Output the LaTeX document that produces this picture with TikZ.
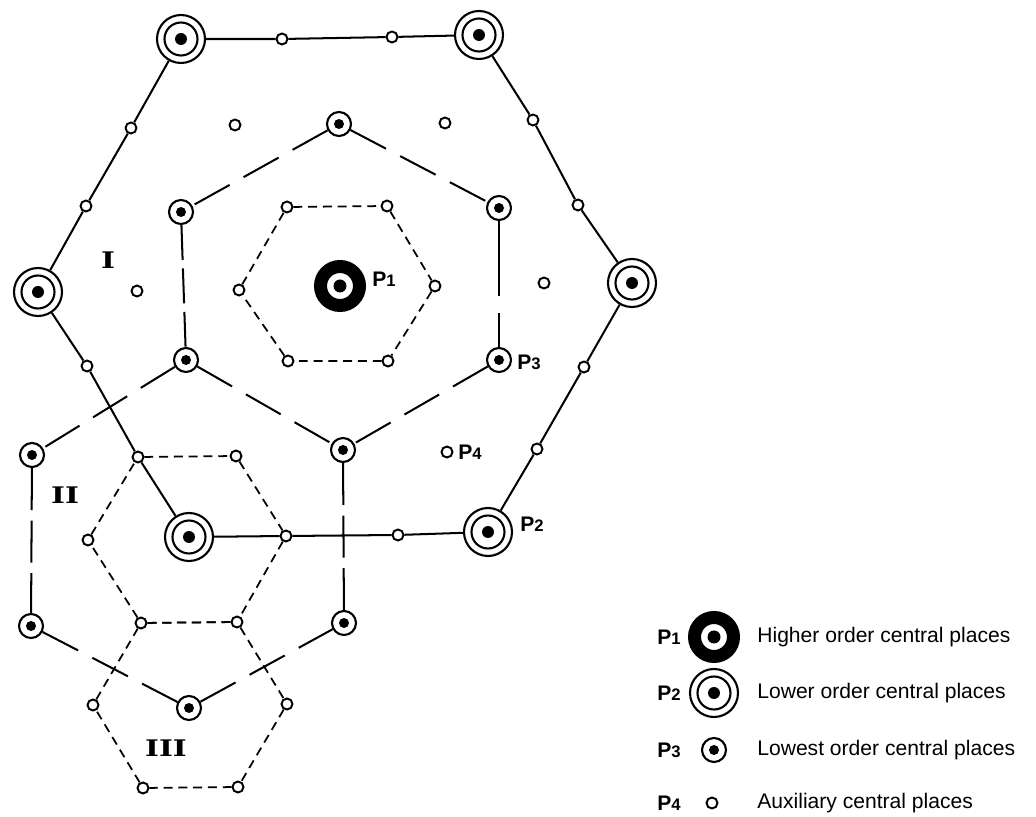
\documentclass[tikz,border=0pt]{standalone}
\usepackage{fontspec}
\setsansfont{Liberation Sans}
\newfontfamily\zonefont{DejaVu Serif}
\usepackage{graphicx}
\usetikzlibrary{positioning}

\newcommand{\pname}[1]{P{\fontsize{9.5}{9.5}\selectfont #1}}
\newcommand{\zone}[1]{\scalebox{1.3}[1]{#1}}

\begin{document}
\begin{tikzpicture}[
    x=0.02cm, y=-0.02cm,
    every node/.style={inner sep=0pt},
    road/.style={line width=1.15pt},
    pline/.style={line width=1.15pt, dash pattern=on 22.8pt off 9.1pt},
    pvert/.style={line width=1.15pt, dash pattern=on 19.9pt off 4.8pt},
    pvertlong/.style={line width=1.15pt, dash pattern=on 23.9pt off 6pt},
    pgap/.style={line width=1.15pt, dash pattern=on 42.7pt off 9.7pt},
    auxline/.style={line width=1pt, dash pattern=on 5pt off 3.4pt},
    pone/.style={circle, draw, line width=0.26cm, minimum size=0.78cm,
        path picture={\fill (path picture bounding box.center) circle (0.13cm);}},
    ptwo/.style={circle, draw, line width=1.2pt, minimum size=0.96cm,
        path picture={\draw[line width=1.2pt] (path picture bounding box.center) circle (0.33cm);
                      \fill (path picture bounding box.center) circle (0.12cm);}},
    pthree/.style={circle, draw, line width=1.2pt, minimum size=0.48cm,
        path picture={\fill (path picture bounding box.center) circle (0.1cm);}},
    pfour/.style={circle, draw, line width=1.1pt, minimum size=0.22cm},
    plabel/.style={font=\sffamily\bfseries\fontsize{12}{12}\selectfont},
    legtext/.style={font=\sffamily\fontsize{12}{14}\selectfont, anchor=west},
    zonelabel/.style={font=\zonefont\bfseries\fontsize{13}{13}\selectfont}
]
\useasboundingbox (0,0) rectangle (1036,817);

% --- Higher order place ---
\node[pone] (p1) at (340,286) {};

% --- Lower order places (outer hexagon) ---
\node[ptwo] (pnw) at (181,39) {};
\node[ptwo] (pne) at (479,35) {};
\node[ptwo] (pe)  at (632,283) {};
\node[ptwo] (pse) at (488,532) {};
\node[ptwo] (psw) at (189,537) {};
\node[ptwo] (pw)  at (38,292) {};

% --- Lowest order places ---
\node[pthree] (ct)  at (339,124) {};
\node[pthree] (cul) at (181,212) {};
\node[pthree] (cur) at (499,208) {};
\node[pthree] (cll) at (186,360) {};
\node[pthree] (clr) at (499,360) {};
\node[pthree] (cb)  at (343,450) {};
\node[pthree] (sl1) at (32,455) {};
\node[pthree] (sl2) at (31,626) {};
\node[pthree] (sb)  at (189,708) {};
\node[pthree] (sr)  at (344,623) {};

% --- Auxiliary places on the outer hexagon ---
\node[pfour] (a1) at (282,39) {};
\node[pfour] (a2) at (392,37) {};
\node[pfour] (b1) at (533,120) {};
\node[pfour] (b2) at (578,205) {};
\node[pfour] (c1) at (584,367) {};
\node[pfour] (c2) at (537,449) {};
\node[pfour] (d1) at (398,535) {};
\node[pfour] (d2) at (286,536) {};
\node[pfour] (e1) at (138,457) {};
\node[pfour] (e2) at (87,366) {};
\node[pfour] (f1) at (86,206) {};
\node[pfour] (f2) at (131,128) {};

% --- Free auxiliary places ---
\node[pfour] (x1) at (235,125) {};
\node[pfour] (x2) at (445,123) {};
\node[pfour] (x3) at (137,291) {};
\node[pfour] (x4) at (544,283) {};
\node[pfour] (x5) at (447,452) {};

% --- Auxiliary places round P1 ---
\node[pfour] (h1) at (287,207) {};
\node[pfour] (h2) at (387,206) {};
\node[pfour] (h3) at (435,286) {};
\node[pfour] (h4) at (388,361) {};
\node[pfour] (h5) at (288,361) {};
\node[pfour] (h6) at (239,290) {};

% --- Auxiliary places round the lower order place ---
\node[pfour] (ha2) at (236,456) {};
\node[pfour] (ha4) at (237,622) {};
\node[pfour] (ha5) at (141,623) {};
\node[pfour] (ha6) at (88,540) {};
\node[pfour] (hb3) at (287,704) {};
\node[pfour] (hb4) at (238,787) {};
\node[pfour] (hb5) at (143,788) {};
\node[pfour] (hb6) at (93,705) {};

% --- Boundaries ---
\draw[road] (pnw) -- (a1) -- (a2) -- (pne) -- (b1) -- (b2) -- (pe) -- (c1) -- (c2) -- (pse)
    -- (d1) -- (d2) -- (psw) -- (e1) -- (e2) -- (pw) -- (f1) -- (f2) -- (pnw);

\draw[pline] (ct) -- (cul);
\draw[pline] (ct) -- (cur);
\draw[pvert] (cul) -- (cll);
\draw[pgap] (cur) -- (clr);
\draw[pline] (cll) -- (cb);
\draw[pline] (clr) -- (cb);
\draw[pline] (cll) -- (sl1);
\draw[pvertlong] (sl1) -- (sl2);
\draw[pline] (sl2) -- (sb);
\draw[pline] (sb) -- (sr);
\draw[pvertlong] (cb) -- (sr);

\draw[auxline] (h1) -- (h2) -- (h3) -- (h4) -- (h5) -- (h6) -- (h1);
\draw[auxline] (e1) -- (ha2) -- (d2) -- (ha4) -- (ha5) -- (ha6) -- (e1);
\draw[auxline] (ha5) -- (ha4) -- (hb3) -- (hb4) -- (hb5) -- (hb6) -- (ha5);

% --- Labels ---
\node[plabel, right=0.12cm of p1, yshift=0.14cm] (lp1) {\pname{1}};
\node[plabel, right=0.1cm of clr, yshift=-0.04cm] (lp3) {\pname{3}};
\node[plabel, right=0.14cm of pse, yshift=0.16cm] (lp2) {\pname{2}};
\node[plabel, right=0.09cm of x5] (lp4) {\pname{4}};

\node[zonelabel] (z1) at (108,260) {\zone{I}};
\node[zonelabel] (z2) at (65,495) {\zone{II}};
\node[zonelabel] (z3) at (166,748) {\zone{III}};

% --- Legend ---
\node[pone]   (k1) at (714,637) {};
\node[ptwo]   (k2) at (714,693) {};
\node[pthree] (k3) at (714,750) {};
\node[pfour]  (k4) at (712,803) {};

\node[plabel, anchor=east] (kl1) at (681,637) {\pname{1}};
\node[plabel, anchor=east] (kl2) at (681,693) {\pname{2}};
\node[plabel, anchor=east] (kl3) at (681,750) {\pname{3}};
\node[plabel, anchor=east] (kl4) at (681,803) {\pname{4}};

\node[legtext] (kt1) at (757,637) {Higher order central places};
\node[legtext] (kt2) at (757,693) {Lower order central places};
\node[legtext] (kt3) at (757,750) {Lowest order central places};
\node[legtext] (kt4) at (757,803) {Auxiliary central places};

\end{tikzpicture}
\end{document}
